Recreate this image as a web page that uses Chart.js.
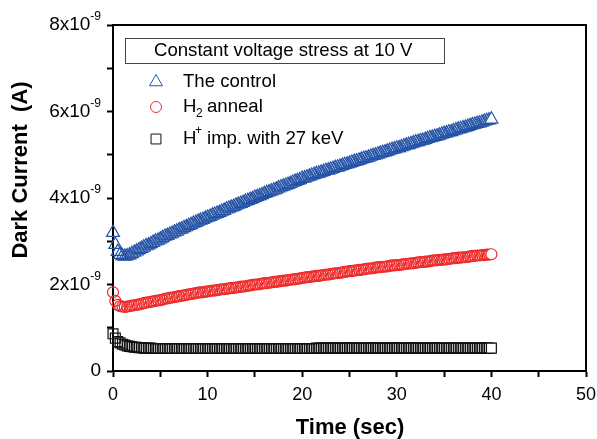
<!DOCTYPE html>
<html>
<head>
<meta charset="utf-8">
<script src="https://cdn.jsdelivr.net/npm/chart.js@4/dist/chart.umd.min.js"></script>
<style>
  html, body { margin: 0; padding: 0; background: #fff; }
  #wrap { width: 597px; height: 439px; }
</style>
</head>
<body>
<div id="wrap"><canvas id="darkChart" width="597" height="439"></canvas></div>
<script>
// ── DATA (current in units of 1e-9 A, one reading every 0.25 s) ─────
const timeSec = [
  0, 0.25, 0.5, 0.75, 1, 1.25, 1.5, 1.75, 2, 2.25, 2.5, 2.75, 3, 3.25, 3.5, 3.75, 4, 4.25, 4.5, 4.75,
  5, 5.25, 5.5, 5.75, 6, 6.25, 6.5, 6.75, 7, 7.25, 7.5, 7.75, 8, 8.25, 8.5, 8.75, 9, 9.25, 9.5, 9.75,
  10, 10.25, 10.5, 10.75, 11, 11.25, 11.5, 11.75, 12, 12.25, 12.5, 12.75, 13, 13.25, 13.5, 13.75, 14, 14.25, 14.5, 14.75,
  15, 15.25, 15.5, 15.75, 16, 16.25, 16.5, 16.75, 17, 17.25, 17.5, 17.75, 18, 18.25, 18.5, 18.75, 19, 19.25, 19.5, 19.75,
  20, 20.25, 20.5, 20.75, 21, 21.25, 21.5, 21.75, 22, 22.25, 22.5, 22.75, 23, 23.25, 23.5, 23.75, 24, 24.25, 24.5, 24.75,
  25, 25.25, 25.5, 25.75, 26, 26.25, 26.5, 26.75, 27, 27.25, 27.5, 27.75, 28, 28.25, 28.5, 28.75, 29, 29.25, 29.5, 29.75,
  30, 30.25, 30.5, 30.75, 31, 31.25, 31.5, 31.75, 32, 32.25, 32.5, 32.75, 33, 33.25, 33.5, 33.75, 34, 34.25, 34.5, 34.75,
  35, 35.25, 35.5, 35.75, 36, 36.25, 36.5, 36.75, 37, 37.25, 37.5, 37.75, 38, 38.25, 38.5, 38.75, 39, 39.25, 39.5, 39.75,
  40];

const controlNA = [
  3.20, 2.92, 2.76, 2.69, 2.66, 2.65, 2.66, 2.68, 2.71, 2.74, 2.77, 2.80, 2.83, 2.86, 2.89, 2.91, 2.94, 2.97, 3.00, 3.02,
  3.05, 3.08, 3.11, 3.13, 3.16, 3.18, 3.21, 3.23, 3.26, 3.28, 3.31, 3.33, 3.36, 3.38, 3.41, 3.43, 3.46, 3.48, 3.50, 3.53,
  3.55, 3.57, 3.60, 3.62, 3.64, 3.66, 3.69, 3.71, 3.74, 3.76, 3.78, 3.80, 3.83, 3.85, 3.87, 3.89, 3.92, 3.94, 3.96, 3.98,
  4.01, 4.03, 4.05, 4.07, 4.10, 4.12, 4.14, 4.16, 4.18, 4.20, 4.23, 4.25, 4.27, 4.29, 4.31, 4.33, 4.36, 4.38, 4.40, 4.42,
  4.45, 4.46, 4.48, 4.50, 4.52, 4.54, 4.56, 4.57, 4.59, 4.61, 4.63, 4.64, 4.66, 4.68, 4.70, 4.71, 4.73, 4.75, 4.77, 4.78,
  4.80, 4.82, 4.84, 4.85, 4.87, 4.89, 4.91, 4.92, 4.94, 4.96, 4.98, 4.99, 5.01, 5.03, 5.05, 5.06, 5.08, 5.10, 5.12, 5.13,
  5.15, 5.16, 5.18, 5.20, 5.22, 5.23, 5.25, 5.27, 5.29, 5.30, 5.32, 5.33, 5.35, 5.37, 5.39, 5.40, 5.42, 5.43, 5.45, 5.47,
  5.49, 5.50, 5.52, 5.53, 5.55, 5.57, 5.59, 5.60, 5.62, 5.63, 5.65, 5.67, 5.69, 5.70, 5.72, 5.73, 5.75, 5.77, 5.79, 5.80,
  5.82];

const h2AnnealNA = [
  1.82, 1.62, 1.53, 1.50, 1.49, 1.48, 1.49, 1.50, 1.51, 1.52, 1.53, 1.54, 1.55, 1.57, 1.58, 1.59, 1.60, 1.61, 1.62, 1.63,
  1.64, 1.65, 1.67, 1.68, 1.69, 1.70, 1.71, 1.72, 1.73, 1.74, 1.75, 1.76, 1.77, 1.78, 1.79, 1.80, 1.81, 1.82, 1.82, 1.83,
  1.84, 1.85, 1.86, 1.86, 1.87, 1.88, 1.89, 1.89, 1.90, 1.91, 1.92, 1.92, 1.93, 1.94, 1.95, 1.95, 1.96, 1.97, 1.98, 1.99,
  2.00, 2.00, 2.01, 2.02, 2.03, 2.03, 2.04, 2.05, 2.06, 2.06, 2.07, 2.08, 2.09, 2.09, 2.10, 2.11, 2.12, 2.12, 2.13, 2.14,
  2.15, 2.16, 2.17, 2.17, 2.18, 2.19, 2.20, 2.20, 2.21, 2.22, 2.23, 2.23, 2.24, 2.25, 2.26, 2.26, 2.27, 2.28, 2.29, 2.30,
  2.31, 2.31, 2.32, 2.33, 2.34, 2.34, 2.35, 2.36, 2.37, 2.37, 2.38, 2.39, 2.40, 2.40, 2.41, 2.41, 2.42, 2.43, 2.44, 2.44,
  2.45, 2.45, 2.46, 2.47, 2.48, 2.48, 2.49, 2.49, 2.50, 2.51, 2.52, 2.52, 2.53, 2.53, 2.54, 2.55, 2.56, 2.56, 2.57, 2.57,
  2.58, 2.58, 2.59, 2.60, 2.61, 2.61, 2.62, 2.62, 2.63, 2.63, 2.64, 2.65, 2.66, 2.66, 2.67, 2.67, 2.68, 2.68, 2.69, 2.69,
  2.70];

const hImpNA = [
  0.86, 0.76, 0.68, 0.65, 0.62, 0.60, 0.58, 0.57, 0.56, 0.55, 0.55, 0.54, 0.54, 0.53, 0.53, 0.53, 0.53, 0.52, 0.52, 0.52,
  0.52, 0.52, 0.52, 0.52, 0.52, 0.52, 0.52, 0.52, 0.52, 0.52, 0.52, 0.52, 0.52, 0.52, 0.52, 0.52, 0.52, 0.52, 0.52, 0.52,
  0.52, 0.52, 0.52, 0.52, 0.52, 0.52, 0.52, 0.52, 0.52, 0.52, 0.52, 0.52, 0.52, 0.52, 0.52, 0.52, 0.52, 0.52, 0.52, 0.52,
  0.52, 0.52, 0.52, 0.52, 0.52, 0.52, 0.52, 0.52, 0.52, 0.52, 0.52, 0.52, 0.52, 0.52, 0.52, 0.52, 0.52, 0.52, 0.52, 0.52,
  0.52, 0.52, 0.52, 0.52, 0.52, 0.52, 0.53, 0.53, 0.53, 0.53, 0.53, 0.53, 0.53, 0.53, 0.53, 0.53, 0.53, 0.53, 0.53, 0.53,
  0.53, 0.53, 0.53, 0.53, 0.53, 0.53, 0.53, 0.53, 0.53, 0.53, 0.53, 0.53, 0.53, 0.53, 0.53, 0.53, 0.53, 0.53, 0.53, 0.53,
  0.53, 0.53, 0.53, 0.53, 0.53, 0.53, 0.53, 0.53, 0.53, 0.53, 0.53, 0.53, 0.53, 0.53, 0.53, 0.53, 0.53, 0.53, 0.53, 0.53,
  0.53, 0.53, 0.53, 0.53, 0.53, 0.53, 0.53, 0.53, 0.53, 0.53, 0.53, 0.53, 0.53, 0.53, 0.53, 0.53, 0.53, 0.53, 0.53, 0.53,
  0.53];

const seriesNames = ["The control", "H2 anneal", "H+ imp. with 27 keV"];
const yTickValues = [0, 2, 4, 6, 8];
const boxTitle = "Constant voltage stress at 10 V";
const xTitle = "Time (sec)";
const yTitle = "Dark Current  (A)";

// ── HELPERS ───────────────────────────────
const FONT = '"Liberation Sans", Arial, sans-serif';

function toPoints(values) {
  return timeSec.map((t, i) => ({ x: t, y: values[i] }));
}

const styles = [
  { pointStyle: "triangle", radius: 7.5, borderColor: "#2553a6" },
  { pointStyle: "circle", radius: 5.5, borderColor: "#ee2a2a" },
  { pointStyle: "rect", radius: 7, borderColor: "#111111" }
];

function makeDataset(label, values, s) {
  const last = values.length - 1;
  return {
    label: label,
    data: toPoints(values),
    showLine: false,
    pointStyle: s.pointStyle,
    pointRadius: s.radius,
    pointBorderColor: s.borderColor,
    // hollow markers; only the final one gets a white face
    pointBackgroundColor: c => (c.dataIndex === last ? "#ffffff" : "rgba(255,255,255,0)"),
    pointBorderWidth: 1.2,
    clip: 10
  };
}

// ── OVERLAY: frame, y labels, legend, axis titles ───────
const overlay = {
  id: "overlay",
  afterDraw(chart) {
    const ctx = chart.ctx;
    const a = chart.chartArea;
    const yScale = chart.scales.y;
    ctx.save();

    // top + right frame
    ctx.strokeStyle = "#000";
    ctx.lineWidth = 2;
    ctx.beginPath();
    ctx.moveTo(a.left, a.top);
    ctx.lineTo(a.right, a.top);
    ctx.lineTo(a.right, a.bottom);
    ctx.stroke();

    // y tick labels with superscript exponent
    ctx.fillStyle = "#000";
    ctx.textBaseline = "middle";
    ctx.textAlign = "right";
    yTickValues.forEach(v => {
      const py = yScale.getPixelForValue(v);
      if (v === 0) {
        ctx.font = "19px " + FONT;
        ctx.fillText("0", 101, py);
        return;
      }
      ctx.font = "12px " + FONT;
      const expW = ctx.measureText("-9").width;
      ctx.fillText("-9", 101, py - 8);
      ctx.font = "19px " + FONT;
      ctx.fillText(v + "x10", 101 - expW, py);
    });

    // legend title box
    ctx.lineWidth = 1;
    ctx.strokeStyle = "#444";
    ctx.strokeRect(125.5, 38.5, 319, 25);
    ctx.fillStyle = "#000";
    ctx.textAlign = "left";
    ctx.font = "18.6px " + FONT;
    ctx.fillText(boxTitle, 154, 51);

    // legend markers
    const rowsY = [82, 107, 139];
    styles.forEach((s, i) => {
      ctx.strokeStyle = s.borderColor;
      ctx.fillStyle = "#fff";
      ctx.lineWidth = 1;
      Chart.helpers.drawPoint(ctx, { pointStyle: s.pointStyle, radius: s.radius, rotation: 0, borderWidth: 1 }, 156, rowsY[i]);
    });

    ctx.fillStyle = "#000";
    ctx.font = "18.6px " + FONT;
    ctx.fillText("The control", 183, rowsY[0]);

    // H2 anneal
    ctx.fillText("H", 183, rowsY[1]);
    ctx.font = "12px " + FONT;
    ctx.fillText("2", 196, rowsY[1] + 7);
    ctx.font = "18.6px " + FONT;
    ctx.fillText("anneal", 207, rowsY[1]);

    // H+ imp.
    ctx.fillText("H", 183, rowsY[2]);
    ctx.font = "12px " + FONT;
    ctx.fillText("+", 195, rowsY[2] - 8);
    ctx.font = "18.6px " + FONT;
    ctx.fillText("imp. with 27 keV", 207, rowsY[2]);

    // axis titles
    ctx.font = "bold 22px " + FONT;
    ctx.textAlign = "center";
    ctx.fillText(xTitle, 350, 428);
    ctx.translate(21, 170);
    ctx.rotate(-Math.PI / 2);
    ctx.fillText(yTitle, 0, 0);

    ctx.restore();
  }
};

// ── CHART ─────────────────────────────────
new Chart(document.getElementById("darkChart").getContext("2d"), {
  type: "scatter",
  data: {
    datasets: [
      makeDataset(seriesNames[2], hImpNA, styles[2]),
      makeDataset(seriesNames[1], h2AnnealNA, styles[1]),
      makeDataset(seriesNames[0], controlNA, styles[0])
    ]
  },
  options: {
    responsive: false,
    animation: false,
    devicePixelRatio: 1,
    layout: { padding: { left: 0, top: 25, right: 11, bottom: 0 } },
    plugins: { legend: { display: false }, tooltip: { enabled: false } },
    scales: {
      x: {
        type: "linear",
        min: 0,
        max: 50,
        afterFit: s => { s.height = 68; s.paddingLeft = 0; s.paddingRight = 0; },
        border: { display: true, color: "#000", width: 2 },
        grid: { drawOnChartArea: false, tickLength: 6, tickWidth: 2, tickColor: "#000" },
        ticks: {
          stepSize: 5,
          autoSkip: false,
          maxRotation: 0,
          padding: 7,
          color: "#000",
          font: { family: FONT, size: 18 },
          callback: v => (v % 10 === 0 ? String(v) : "")
        }
      },
      y: {
        type: "linear",
        min: 0,
        max: 8,
        afterFit: s => { s.width = 113; s.paddingTop = 0; s.paddingBottom = 0; },
        border: { display: true, color: "#000", width: 2 },
        grid: { drawOnChartArea: false, tickLength: 6, tickWidth: 2, tickColor: "#000" },
        ticks: {
          stepSize: 1,
          autoSkip: false,
          color: "#000",
          font: { family: FONT, size: 18 },
          callback: () => ""
        }
      }
    }
  },
  plugins: [overlay]
});
</script>
</body>
</html>
